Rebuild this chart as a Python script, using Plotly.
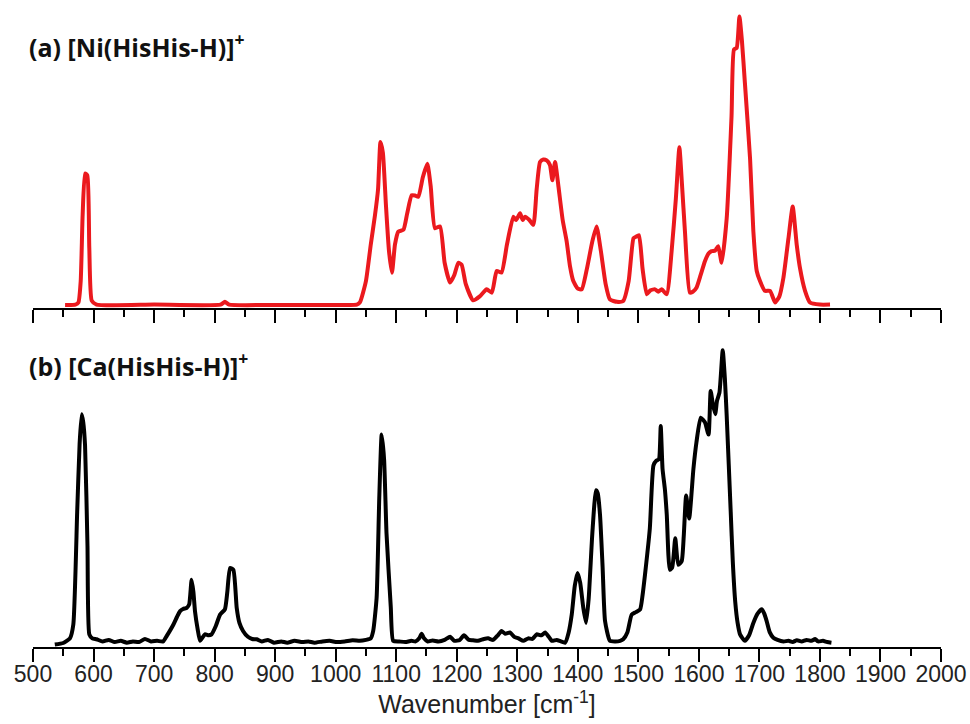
import plotly.graph_objects as go

# ---- data: (a) [Ni(HisHis-H)]+ ----
wn_a = [553, 570, 575, 578.8, 582, 586, 589.7, 593, 597, 605, 700, 810, 817, 824, 900, 1000, 1035,
        1040, 1050, 1058, 1065, 1070, 1074, 1078, 1083, 1088, 1093, 1098, 1103.5, 1112, 1118, 1125.6,
        1131, 1136.6, 1144, 1151.5, 1157, 1164, 1172.4, 1180, 1189, 1196, 1202.6, 1208, 1215, 1227,
        1238, 1249.5, 1258, 1266, 1274, 1283, 1293.5, 1298, 1304.6, 1309, 1313, 1320, 1326.6, 1332,
        1337.6, 1343, 1348.6, 1354, 1358, 1362.4, 1368, 1375, 1381.6, 1387, 1392.6, 1400, 1406.5,
        1415, 1424, 1431, 1438, 1446, 1453, 1465, 1475, 1484, 1492, 1496, 1501, 1507, 1514, 1520,
        1527.6, 1533, 1538.6, 1546.9, 1555, 1562, 1567.8, 1572, 1577, 1585, 1590, 1596, 1603, 1610,
        1616, 1621, 1627, 1632, 1637.7, 1646, 1654, 1658, 1662.5, 1667, 1671, 1676, 1684.6, 1690,
        1695.6, 1701, 1709, 1717.6, 1726, 1733, 1739.6, 1748, 1755, 1761.6, 1767, 1775.4, 1783.6,
        1800, 1816.7]
int_a = [0.002, 0.003, 0.01, 0.08, 0.296, 0.432, 0.426, 0.188, 0.016, 0.003, 0.003, 0.003, 0.012,
         0.003, 0.002, 0.002, 0.003,
         0.01, 0.08, 0.2, 0.296, 0.38, 0.535, 0.5, 0.33, 0.18, 0.107, 0.2, 0.242, 0.248, 0.3, 0.361,
         0.36, 0.356, 0.42, 0.464, 0.39, 0.253, 0.259, 0.14, 0.075, 0.1, 0.14, 0.134, 0.07, 0.017,
         0.03, 0.053, 0.042, 0.113, 0.108, 0.2, 0.291, 0.28, 0.302, 0.28, 0.291, 0.28, 0.264, 0.38,
         0.47, 0.478, 0.475, 0.46, 0.41, 0.47, 0.39, 0.28, 0.21, 0.13, 0.08, 0.055, 0.053,
         0.12, 0.21, 0.259, 0.18, 0.07, 0.02, 0.012, 0.015, 0.08, 0.22, 0.225, 0.23, 0.12, 0.037, 0.05,
         0.053, 0.045, 0.053, 0.037, 0.178, 0.35, 0.518, 0.4, 0.243, 0.042, 0.045, 0.058, 0.1, 0.145,
         0.17, 0.178, 0.18, 0.194, 0.14, 0.286, 0.621, 0.838, 0.843, 0.946, 0.87, 0.73, 0.48, 0.243,
         0.113, 0.08, 0.048, 0.048, 0.01, 0.03, 0.09, 0.22, 0.324, 0.2, 0.123, 0.048, 0.01,
         0.003, 0.003]

# ---- data: (b) [Ca(HisHis-H)]+ ----
wn_b = [536, 550, 561, 566.6, 573, 577, 580.4, 583, 586, 590, 593, 598, 605, 615, 625, 635, 645, 655,
        665, 675, 685, 695, 705, 715, 721, 732, 738, 743, 748, 754, 758, 762, 765, 767.6, 772, 776,
        784, 790, 795, 802, 809, 817, 821, 825.5, 831, 836.5, 841, 847, 855, 862, 869.5, 878, 888,
        898, 910, 920, 932, 945, 955, 965, 978, 990, 1002, 1015, 1028, 1040, 1050, 1058, 1062,
        1067.6, 1072, 1076, 1080, 1084, 1091, 1095, 1105, 1115, 1125, 1132, 1138, 1142, 1146, 1152,
        1160, 1170, 1180, 1189, 1196, 1205, 1212, 1220, 1227, 1235, 1245, 1252, 1260, 1268, 1274,
        1280, 1288, 1295, 1302, 1310, 1318, 1325, 1332, 1340, 1346, 1352, 1357, 1365, 1372, 1379,
        1385, 1390, 1395, 1399.5, 1404, 1409, 1413.6, 1418, 1424, 1430, 1433, 1436.7, 1441, 1445,
        1453, 1462, 1470, 1475, 1482, 1489, 1496, 1503, 1507, 1511, 1519, 1525, 1530, 1534, 1537,
        1540, 1544, 1547, 1552, 1556, 1561, 1566, 1571.6, 1575, 1579, 1584, 1591, 1596, 1603, 1610,
        1616, 1619.5, 1623, 1627, 1630, 1634, 1639.4, 1643, 1646, 1652.6, 1656, 1660, 1664, 1668,
        1676, 1683, 1690, 1697, 1704, 1708, 1712, 1717, 1723, 1730, 1740, 1748, 1755, 1762, 1770,
        1778, 1786, 1792, 1797, 1805, 1812, 1819]
int_b = [0.0, 0.005, 0.02, 0.065, 0.43, 0.65, 0.746, 0.72, 0.644, 0.32, 0.033, 0.02, 0.017, 0.01,
         0.015, 0.008, 0.012, 0.006, 0.01, 0.008, 0.018, 0.01, 0.012, 0.01, 0.028, 0.065, 0.09,
         0.108, 0.115, 0.119, 0.13, 0.21, 0.17, 0.108, 0.05, 0.012, 0.033, 0.03, 0.033, 0.06, 0.097,
         0.114, 0.17, 0.248, 0.242, 0.119, 0.07, 0.044, 0.025, 0.018, 0.017, 0.01, 0.015, 0.006,
         0.01, 0.006, 0.012, 0.008, 0.01, 0.006, 0.01, 0.012, 0.008, 0.01, 0.014, 0.012, 0.015,
         0.02, 0.044, 0.15, 0.473, 0.68, 0.6, 0.36, 0.123, 0.012, 0.01, 0.008, 0.012, 0.01, 0.02,
         0.035, 0.02, 0.01, 0.013, 0.01, 0.015, 0.025, 0.012, 0.015, 0.03, 0.015, 0.014, 0.012,
         0.018, 0.02, 0.015, 0.03, 0.044, 0.035, 0.039, 0.025, 0.02, 0.012, 0.02, 0.018, 0.033,
         0.03, 0.039, 0.025, 0.012, 0.015, 0.01, 0.006, 0.04, 0.097, 0.19, 0.232, 0.2, 0.12, 0.07,
         0.15, 0.36, 0.5, 0.49, 0.42, 0.25, 0.076, 0.012, 0.01, 0.012, 0.017, 0.04, 0.097, 0.105,
         0.114, 0.16, 0.226, 0.376, 0.58, 0.596, 0.6, 0.708, 0.569, 0.5, 0.42, 0.242, 0.25, 0.344,
         0.258, 0.27, 0.35, 0.483, 0.408, 0.569, 0.655, 0.735, 0.72, 0.68, 0.821, 0.78, 0.746, 0.79,
         0.816, 0.953, 0.86, 0.74, 0.43, 0.27, 0.14, 0.07, 0.033, 0.012, 0.03, 0.07, 0.1, 0.114,
         0.1, 0.076, 0.04, 0.022, 0.015, 0.01, 0.012, 0.008, 0.014, 0.01, 0.015, 0.012, 0.018, 0.01,
         0.012, 0.008, 0.006]

x_range = [500, 2000]
label_a = "<b>(a) [Ni(HisHis-H)]<sup>+</sup></b>"
label_b = "<b>(b) [Ca(HisHis-H)]<sup>+</sup></b>"
x_title = "Wavenumber [cm<sup>-1</sup>]"

fig = go.Figure()
fig.add_trace(go.Scatter(x=wn_a, y=int_a, mode="lines", xaxis="x2", yaxis="y2",
                         line=dict(color="rgb(235,25,30)", width=4, shape="spline", smoothing=0.5),
                         showlegend=False))
fig.add_trace(go.Scatter(x=wn_b, y=int_b, mode="lines", xaxis="x", yaxis="y",
                         line=dict(color="black", width=4, shape="spline", smoothing=0.5),
                         showlegend=False))

axis_common = dict(range=x_range, showline=True, linecolor="black", linewidth=2,
                   ticks="outside", ticklen=13, tickwidth=2, tickcolor="black",
                   dtick=100, tick0=500, showgrid=False, zeroline=False,
                   minor=dict(dtick=50, ticks="outside", ticklen=7, tickwidth=2,
                              tickcolor="black", showgrid=False))

fig.update_layout(
    width=970, height=724,
    margin=dict(l=33, r=29, t=0, b=77),
    plot_bgcolor="white", paper_bgcolor="white",
    font=dict(family="Liberation Sans", color="#222"),
    xaxis=dict(**axis_common, anchor="y", ticklabelstandoff=-8,
               tickfont=dict(family="Liberation Sans", size=23, color="#222"),
               title=dict(text=x_title, standoff=0,
                          font=dict(family="Liberation Sans", size=25, color="#222"))),
    yaxis=dict(domain=[0, 0.481], range=[-0.008, 1.0], visible=False),
    xaxis2=dict(**axis_common, anchor="y2", showticklabels=False),
    yaxis2=dict(domain=[0.524, 1.0], range=[-0.008, 1.0], visible=False),
    annotations=[
        dict(text=label_a, xref="paper", yref="paper", x=-0.007, y=0.930,
             xanchor="left", yanchor="middle", showarrow=False,
             font=dict(family="Open Sans", size=25, color="#111")),
        dict(text=label_b, xref="paper", yref="paper", x=-0.007, y=0.437,
             xanchor="left", yanchor="middle", showarrow=False,
             font=dict(family="Open Sans", size=25, color="#111")),
    ],
)

fig.write_html("out.html")
